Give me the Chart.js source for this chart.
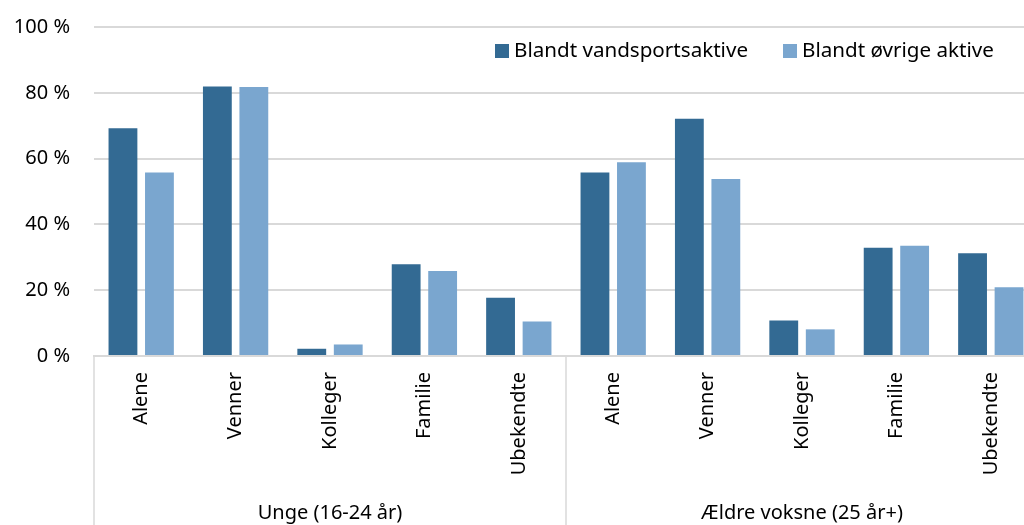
<!DOCTYPE html>
<html>
<head>
<meta charset="utf-8">
<script src="https://cdn.jsdelivr.net/npm/chart.js@4.4.0/dist/chart.umd.min.js"></script>
<style>
    html, body { margin: 0; padding: 0; background: #fff; overflow: hidden; }
    #wrap { position: relative; width: 1040px; height: 525px; }
</style>
</head>
<body>
<div id="wrap"><canvas id="chart"></canvas></div>
<script>
// Data
const categories = ['Alene', 'Venner', 'Kolleger', 'Familie', 'Ubekendte',
                    'Alene', 'Venner', 'Kolleger', 'Familie', 'Ubekendte'];
const groups = ['Unge (16-24 år)', 'Ældre voksne (25 år+)'];
const groupSize = 5;
const seriesNames = ['Blandt vandsportsaktive', 'Blandt øvrige aktive'];
const vandsport = [69.2, 81.9, 2.2, 27.9, 17.7, 55.8, 72.1, 10.8, 32.9, 31.2];
const oevrige = [55.8, 81.8, 3.5, 25.8, 10.5, 58.9, 53.8, 8.1, 33.5, 20.9];
const yMin = 0;
const yMax = 100;
const yStep = 20;

const FONT = '"Noto Sans", sans-serif';
const GRID = '#d9d9d9';

// Legend drawn inside the plot area, top right
const insideLegend = {
    id: 'insideLegend',
    afterDraw(chart) {
        const ctx = chart.ctx;
        ctx.save();
        ctx.font = '20.6px ' + FONT;
        ctx.textBaseline = 'alphabetic';
        let x = 495;
        chart.data.datasets.forEach(ds => {
            ctx.fillStyle = ds.backgroundColor;
            ctx.fillRect(x, 44, 14, 14);
            ctx.fillStyle = '#000';
            ctx.fillText(ds.label, x + 19, 57);
            x += 19 + ctx.measureText(ds.label).width + 35;
        });
        ctx.restore();
    }
};

// Second level of the category axis: separators and group names
const groupAxis = {
    id: 'groupAxis',
    afterDraw(chart) {
        const ctx = chart.ctx;
        const xs = chart.scales.x;
        const step = xs.getPixelForValue(1) - xs.getPixelForValue(0);
        const top = chart.chartArea.bottom;
        ctx.save();
        ctx.strokeStyle = GRID;
        ctx.lineWidth = 1.5;
        for (let g = 0; g <= groups.length; g++) {
            const px = Math.round(xs.getPixelForValue(g * groupSize) - step / 2);
            ctx.beginPath();
            ctx.moveTo(px, top);
            ctx.lineTo(px, chart.height);
            ctx.stroke();
        }
        ctx.font = '20px ' + FONT;
        ctx.fillStyle = '#000';
        ctx.textAlign = 'center';
        ctx.textBaseline = 'alphabetic';
        groups.forEach((name, g) => {
            const first = xs.getPixelForValue(g * groupSize) - step / 2;
            const last = xs.getPixelForValue((g + 1) * groupSize - 1) + step / 2;
            ctx.fillText(name, (first + last) / 2, 519);
        });
        ctx.restore();
    }
};

const ctx = document.getElementById('chart').getContext('2d');
new Chart(ctx, {
    type: 'bar',
    data: {
        labels: categories,
        datasets: [{
            label: seriesNames[0],
            data: vandsport,
            backgroundColor: '#336a93'
        }, {
            label: seriesNames[1],
            data: oevrige,
            backgroundColor: '#7aa6cf'
        }]
    },
    options: {
        responsive: true,
        maintainAspectRatio: false,
        animation: false,
        devicePixelRatio: 1,
        categoryPercentage: 0.773,
        barPercentage: 0.79,
        layout: { padding: { top: 27, right: 2, left: 0, bottom: 0 } },
        plugins: {
            legend: { display: false },
            tooltip: { enabled: false }
        },
        scales: {
            x: {
                offset: true,
                afterFit(scale) { scale.height = 169; },
                grid: { display: false, drawTicks: false },
                border: { display: true, color: GRID, width: 2 },
                ticks: {
                    autoSkip: false,
                    minRotation: 90,
                    maxRotation: 90,
                    padding: 16,
                    color: '#000',
                    font: { family: FONT, size: 20 }
                }
            },
            y: {
                min: yMin,
                max: yMax,
                afterFit(scale) {
                    scale.width = 94;
                    scale.paddingTop = 0;
                    scale.paddingBottom = 0;
                },
                grid: { color: GRID, lineWidth: 2, drawTicks: false },
                border: { display: false },
                ticks: {
                    stepSize: yStep,
                    padding: 24,
                    color: '#000',
                    font: { family: FONT, size: 20 },
                    callback: v => v + ' %'
                }
            }
        }
    },
    plugins: [insideLegend, groupAxis]
});
</script>
</body>
</html>
